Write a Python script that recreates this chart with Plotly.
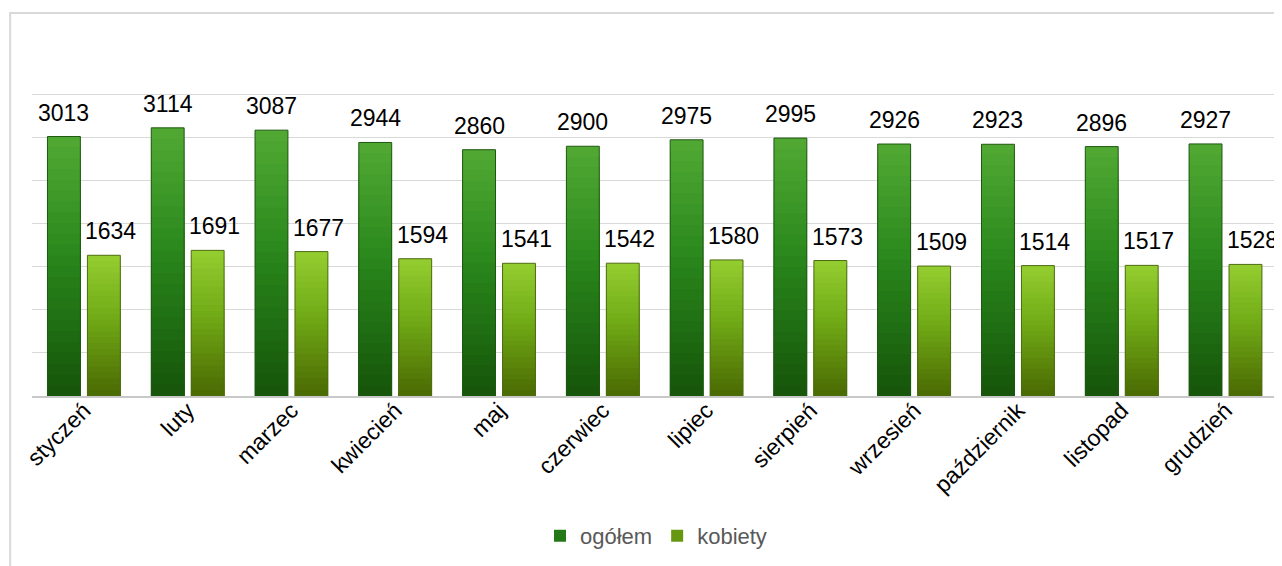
import plotly.graph_objects as go

# miesiące i wartości
months = ["styczeń", "luty", "marzec", "kwiecień", "maj", "czerwiec",
          "lipiec", "sierpień", "wrzesień", "październik", "listopad", "grudzień"]
ogolem = [3013, 3114, 3087, 2944, 2860, 2900, 2975, 2995, 2926, 2923, 2896, 2927]
kobiety = [1634, 1691, 1677, 1594, 1541, 1542, 1580, 1573, 1509, 1514, 1517, 1528]

FONT = "Liberation Sans, Arial, sans-serif"
N_LAYERS = 24
BAR_W = 0.317


def mix(stops, t):
    # stops: list of (pos, (r,g,b)), t in 0..1 (0 = top of bar, 1 = bottom)
    for (p0, c0), (p1, c1) in zip(stops, stops[1:]):
        if p0 <= t <= p1:
            f = (t - p0) / (p1 - p0)
            return "rgb({},{},{})".format(*[round(a + (b - a) * f) for a, b in zip(c0, c1)])
    return "rgb({},{},{})".format(*stops[-1][1])


series = [
    ("ogółem", ogolem, -0.351, -20,
     [(0, (82, 170, 52)), (0.45, (42, 136, 28)), (1, (22, 84, 10))], "rgb(30,88,18)"),
    ("kobiety", kobiety, 0.034, 27,
     [(0, (148, 206, 48)), (0.45, (112, 170, 22)), (1, (74, 104, 2))], "rgb(78,108,18)"),
]

fig = go.Figure()
for name, vals, offset, lab_shift, stops, edge in series:
    # warstwy dające gradient (ciemniej u dołu słupka)
    for k in range(N_LAYERS):
        frac = 1 - k / N_LAYERS
        t = (k + 0.5) / N_LAYERS
        fig.add_trace(go.Bar(
            x=months, y=[v * frac for v in vals], name=name,
            width=BAR_W, offset=offset,
            marker=dict(color=mix(stops, t), line=dict(width=0)),
            showlegend=(k == int(N_LAYERS * 0.6)), legendgroup=name,
            hoverinfo="skip"))
    # obramowanie słupka
    fig.add_trace(go.Bar(
        x=months, y=vals, name=name, width=BAR_W, offset=offset,
        marker=dict(color="rgba(0,0,0,0)", line=dict(width=1, color=edge)),
        showlegend=False, legendgroup=name))
    # etykiety danych
    for m, v in zip(months, vals):
        fig.add_annotation(x=m, y=v, text=str(v), showarrow=False,
                           xshift=lab_shift, yshift=9, yanchor="bottom",
                           font=dict(family=FONT, size=23, color="#000000"))

# ramka obszaru wykresu
fig.add_shape(type="rect", xref="paper", yref="paper",
              x0=-0.0175, x1=1.2, y0=-0.8, y1=1.26,
              line=dict(color="#d9d9d9", width=2), layer="below")

# strona ma 8px marginesu body, więc figura jest o tyle mniejsza i przesunięta
fig.update_layout(
    width=1274, height=558, autosize=False,
    barmode="overlay",
    plot_bgcolor="white", paper_bgcolor="white",
    margin=dict(l=24, r=2, t=84, b=170),
    font=dict(family=FONT, size=21, color="#000000"),
    xaxis=dict(tickangle=-45, showgrid=False, ticks="", ticklen=0,
               ticklabelstandoff=-10,
               showline=True, linecolor="#c8c8c8", linewidth=2,
               tickfont=dict(size=23, color="#000000")),
    yaxis=dict(range=[0, 3530], tick0=0, dtick=500, showticklabels=False,
               showgrid=True, gridcolor="#d9d9d9", gridwidth=1,
               zeroline=False),
    legend=dict(orientation="h", x=0.5, xanchor="center", y=-0.46, yanchor="middle",
                font=dict(size=22, color="#595959"), traceorder="normal"),
)

fig.write_html("out.html")
